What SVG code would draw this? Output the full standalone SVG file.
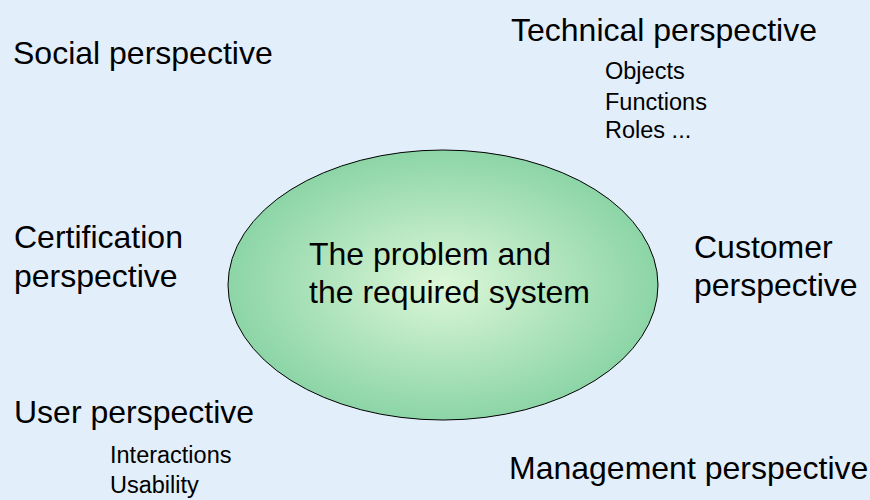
<svg xmlns="http://www.w3.org/2000/svg" width="870" height="500" viewBox="0 0 870 500">
<style>
.big{font-family:"Liberation Sans",Arial,sans-serif;font-size:32px;fill:#000}
.small{font-family:"Liberation Sans",Arial,sans-serif;font-size:23.5px;fill:#000}
</style>
<defs>
<radialGradient id="g" cx="50%" cy="50%" r="50%">
<stop offset="0" stop-color="#dcf7d8"/>
<stop offset="0.55" stop-color="#b0e4bc"/>
<stop offset="1" stop-color="#8cd5a6"/>
</radialGradient>
</defs>
<rect width="870" height="500" fill="#e2effb"/>
<g id="center">
<ellipse cx="443" cy="285" rx="215" ry="135" fill="url(#g)" stroke="#000" stroke-width="1"/>
<text class="big" x="309" y="265">The problem and</text>
<text class="big" x="309" y="303">the required system</text>
</g>
<g id="social"><text class="big" x="13" y="64">Social perspective</text></g>
<g id="technical">
<text class="big" x="511" y="41">Technical perspective</text>
<text class="small" x="605" y="79">Objects</text>
<text class="small" x="605" y="110">Functions</text>
<text class="small" x="605" y="138">Roles ...</text>
</g>
<g id="certification">
<text class="big" x="14" y="248">Certification</text>
<text class="big" x="14" y="287">perspective</text>
</g>
<g id="customer">
<text class="big" x="694" y="258">Customer</text>
<text class="big" x="694" y="296">perspective</text>
</g>
<g id="user">
<text class="big" x="14" y="423">User perspective</text>
<text class="small" x="110" y="463">Interactions</text>
<text class="small" x="110" y="493">Usability</text>
</g>
<g id="management"><text class="big" x="509" y="479">Management perspective</text></g>
<g id="connectors"></g>
</svg>
